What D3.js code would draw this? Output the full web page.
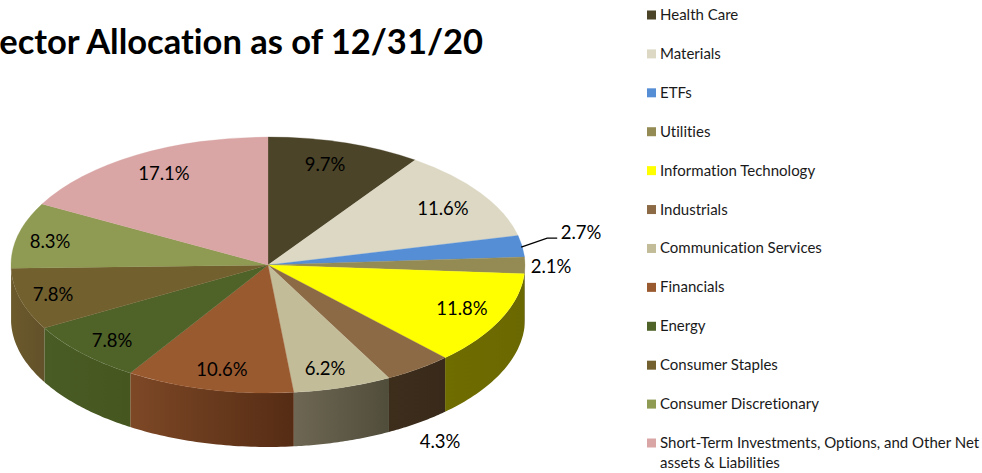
<!DOCTYPE html>
<html>
<head>
<meta charset="utf-8">
<script src="https://cdn.jsdelivr.net/npm/d3@7"></script>
<style>
  html, body { margin: 0; padding: 0; background: #fff; }
  svg { display: block; }
  text { font-family: Lato, "Open Sans", sans-serif; font-variant-ligatures: none; }
</style>
</head>
<body>
<div id="chart"></div>
<script>
var categories = ["Health Care", "Materials", "ETFs", "Utilities", "Information Technology", "Industrials",
  "Communication Services", "Financials", "Energy", "Consumer Staples", "Consumer Discretionary",
  "Short-Term Investments, Options, and Other Net|assets & Liabilities"];
var values = [9.7, 11.6, 2.7, 2.1, 11.8, 4.3, 6.2, 10.6, 7.8, 7.8, 8.3, 17.1];
var topColors = ["#4b4428", "#dcd8c4", "#558ed5", "#948a54", "#ffff00", "#8b6a45",
  "#c3bc98", "#9a5a30", "#4f6228", "#72602f", "#8f9a52", "#d9a5a5"];
var wallLight = ["#332d1a", "#94917f", "#38608f", "#635c38", "#6f6d00", "#3d2e1c",
  "#6d6753", "#7d4826", "#4a5c25", "#6c5a2c", "#5f6636", "#917070"];
var wallDark = ["#332d1a", "#94917f", "#38608f", "#635c38", "#6a6800", "#38291a",
  "#514d3b", "#552c14", "#45561f", "#62512a", "#5f6636", "#917070"];

(function() {
  var w = 982,
      h = 473;

  var cx = 268, cy = 265, rx = 257, ry = 128, depth = 54;

  var svg = d3.select("#chart")
    .append("svg")
    .attr("width", w)
    .attr("height", h);

  var defs = svg.append("defs");

  svg.append("text")
    .attr("x", 483)
    .attr("y", 54)
    .attr("text-anchor", "end")
    .attr("font-size", 34.5)
    .attr("font-weight", 700)
    .attr("fill", "#000")
    .text("Sector Allocation as of 12/31/20");

  var slices = d3.pie().sort(null).value(function(d) { return d })(values);

  function px(a) { return cx + rx * Math.sin(a) }
  function py(a) { return cy - ry * Math.cos(a) }

  // walls only exist on the front half of the ellipse
  var wallArea = d3.area()
    .x(px)
    .y0(py)
    .y1(function(a) { return py(a) + depth });

  var g = svg.append("g");

  slices.forEach(function(s, i) {
    var a0 = Math.max(s.startAngle, Math.PI / 2),
        a1 = Math.min(s.endAngle, Math.PI * 1.5);
    if (a1 <= a0) return;

    var grad = defs.append("linearGradient")
      .attr("id", "wall" + i)
      .attr("gradientUnits", "userSpaceOnUse")
      .attr("x1", px(a0)).attr("x2", px(a1))
      .attr("y1", 0).attr("y2", 0);
    grad.append("stop").attr("offset", 0).attr("stop-color", wallDark[i]);
    grad.append("stop").attr("offset", 1).attr("stop-color", wallLight[i]);

    var steps = d3.range(0, 41).map(function(k) { return a0 + (a1 - a0) * k / 40 });
    g.append("path")
      .attr("d", wallArea(steps))
      .attr("fill", "url(#wall" + i + ")");
  });

  // top face: a circle pie squashed into the ellipse
  var arc = d3.arc().innerRadius(0).outerRadius(rx);
  g.append("g")
    .attr("transform", "translate(" + cx + "," + cy + ") scale(1," + (ry / rx) + ")")
    .selectAll("path")
    .data(slices)
    .enter().append("path")
    .attr("d", arc)
    .attr("fill", function(d, i) { return topColors[i] })
    .attr("stroke", function(d, i) { return topColors[i] })
    .attr("stroke-width", 0.4);

  // leader for the ETFs slice, from its rim out to the label
  var etf = slices[2],
      etfMid = (etf.startAngle + etf.endAngle) / 2;
  svg.append("path")
    .attr("d", d3.line()([
      [px(etfMid) - 1, py(etfMid) + 1],
      [px(etfMid) + 25, py(etfMid) - 8],
      [px(etfMid) + 35, py(etfMid) - 8]
    ]))
    .attr("fill", "none")
    .attr("stroke", "#000")
    .attr("stroke-width", 1.3);

  var labelAt = [[325, 165], [443, 209], [581, 233], [551, 267], [462, 309], [440, 442],
    [325, 369], [222, 370], [112, 341], [53, 295], [50, 242], [164, 174]];

  svg.append("g").selectAll("text")
    .data(values)
    .enter().append("text")
    .attr("x", function(d, i) { return labelAt[i][0] })
    .attr("y", function(d, i) { return labelAt[i][1] })
    .attr("dy", "0.35em")
    .attr("text-anchor", "middle")
    .attr("font-size", 18.5)
    .attr("fill", "#000")
    .text(function(d) { return d.toFixed(1) + "%" });

  var legendY = d3.scalePoint()
    .domain(categories)
    .range([15, 443]);

  var legend = svg.append("g").selectAll("g")
    .data(categories)
    .enter().append("g")
    .attr("transform", function(d) { return "translate(647," + legendY(d) + ")" });

  legend.append("rect")
    .attr("y", -4.5)
    .attr("width", 9)
    .attr("height", 9)
    .attr("fill", function(d, i) { return topColors[i] });

  legend.append("text")
    .attr("fill", "#1a1a1a")
    .attr("font-size", 15)
    .selectAll("tspan")
    .data(function(d) { return d.split("|") })
    .enter().append("tspan")
    .attr("x", 13)
    .attr("y", function(d, i) { return 5 + i * 19.5 })
    .text(function(d) { return d });
})();
</script>
</body>
</html>
